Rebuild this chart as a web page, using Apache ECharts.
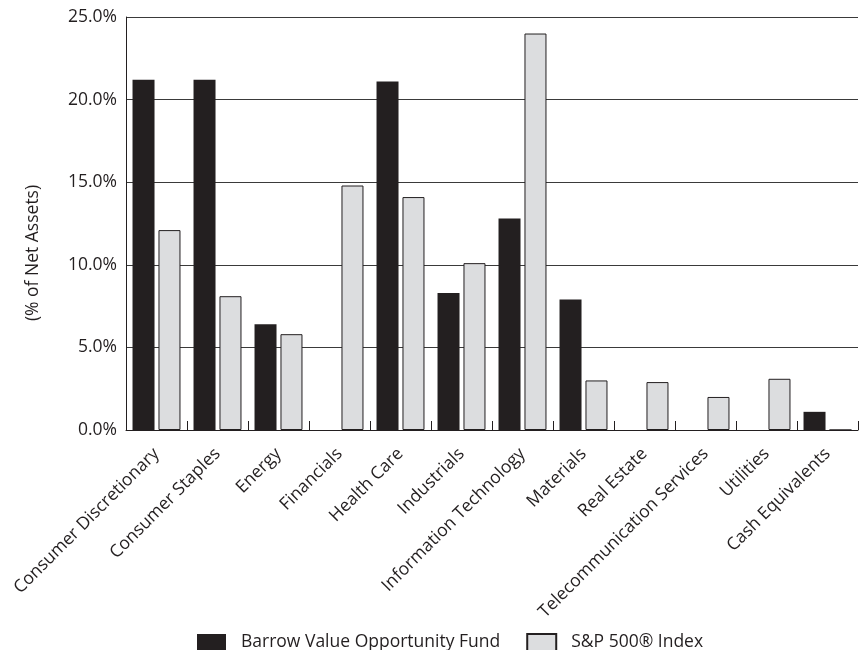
<!DOCTYPE html>
<html>
<head>
<meta charset="utf-8">
<title>Sector Allocation</title>
<script src="https://cdn.jsdelivr.net/npm/echarts@6/dist/echarts.min.js"></script>
<style>
  html, body { margin: 0; padding: 0; background: #fff; }
  #myChart { width: 861px; height: 650px; }
</style>
</head>
<body>
<div id="myChart"></div>
<script>
// 行业分类
var categories = [
  "Consumer Discretionary", "Consumer Staples", "Energy", "Financials",
  "Health Care", "Industrials", "Information Technology", "Materials",
  "Real Estate", "Telecommunication Services", "Utilities", "Cash Equivalents"
];
// 基金占比 (%)
var fundValues = [21.2, 21.2, 6.4, 0, 21.1, 8.3, 12.8, 7.9, 0, 0, 0, 1.1];
// 指数占比 (%)
var indexValues = [12.1, 8.1, 5.8, 14.8, 14.1, 10.1, 24.0, 3.0, 2.9, 2.0, 3.1, 0];
var seriesNames = ["Barrow Value Opportunity Fund", "S&P 500® Index"];
var yTicks = [0, 5, 10, 15, 20, 25];

var font = "'Open Sans', sans-serif";
var textColor = "#231f20";

var chart = echarts.init(document.getElementById("myChart"));
var option = {
  animation: false,
  backgroundColor: "#fff",
  textStyle: { fontFamily: font },
  grid: { left: 126, right: 3, top: 17, bottom: 220 },
  legend: {
    left: 197,
    top: 633,
    padding: 0,
    itemWidth: 29,
    itemHeight: 17,
    itemGap: 26,
    icon: "rect",
    textStyle: { fontSize: 17.5, color: textColor, fontFamily: font, padding: [0, 0, 0, 10] },
    data: seriesNames
  },
  graphic: [
    {
      type: "text",
      x: 33,
      y: 253,
      rotation: Math.PI / 2,
      style: {
        text: "(% of Net Assets)",
        fontSize: 17.5,
        fontFamily: font,
        fill: textColor,
        align: "center",
        verticalAlign: "middle"
      }
    }
  ],
  xAxis: {
    type: "category",
    data: categories,
    boundaryGap: true,
    axisLine: { lineStyle: { color: "#231f20", width: 1 } },
    axisTick: { show: true, inside: true, length: 9, lineStyle: { color: "#231f20" } },
    axisLabel: {
      interval: 0,
      rotate: 45,
      margin: 21,
      fontSize: 17.5,
      color: textColor,
      fontFamily: font
    }
  },
  yAxis: {
    type: "value",
    min: yTicks[0],
    max: yTicks[yTicks.length - 1],
    interval: 5,
    axisLine: { show: true, lineStyle: { color: "#231f20", width: 1 } },
    axisTick: { show: false },
    axisLabel: {
      margin: 9,
      fontSize: 17.5,
      color: textColor,
      fontFamily: font,
      formatter: function (v) { return v.toFixed(1) + "%"; }
    },
    splitLine: { show: true, lineStyle: { color: "#3a3a3a", width: 1 } }
  },
  series: [
    {
      name: seriesNames[0],
      type: "bar",
      data: fundValues,
      barWidth: 22,
      barGap: "18%",
      itemStyle: { color: "#231f20" }
    },
    {
      name: seriesNames[1],
      type: "bar",
      data: indexValues,
      barWidth: 22,
      itemStyle: { color: "#dcdddf", borderColor: "#231f20", borderWidth: 1 }
    }
  ]
};
chart.setOption(option);
</script>
</body>
</html>
